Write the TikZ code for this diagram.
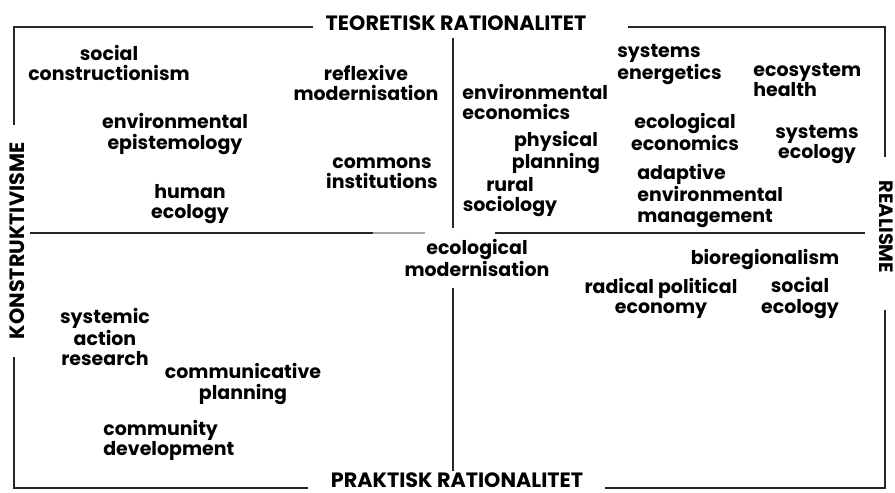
\documentclass[tikz,border=0pt]{standalone}
\usepackage{fontspec}
\setmainfont{Poppins}

\tikzset{
    term/.style={font=\bfseries\fontsize{10.8}{11.4}\selectfont, align=center, inner sep=0pt},
    termleft/.style={term, align=left, anchor=west},
    axislabel/.style={font=\bfseries\fontsize{11.8}{13}\selectfont, inner sep=0pt},
    frameline/.style={line width=0.9pt, black!85}
}

\begin{document}
\begin{tikzpicture}[x=0.02cm, y=-0.02cm]
    \useasboundingbox (0,0) rectangle (895,493);

    % corners of the frame
    \coordinate (NW) at (14,27);
    \coordinate (NE) at (885,27);
    \coordinate (SW) at (14,488);
    \coordinate (SE) at (885,488);

    % axis labels
    \node[axislabel] (teo) at (456,23) {TEORETISK RATIONALITET};
    \node[axislabel] (prak) at (457,480) {PRAKTISK RATIONALITET};
    \node[axislabel, rotate=90] (konst) at (17,241) {KONSTRUKTIVISME};
    \node[axislabel, font=\bfseries\fontsize{11}{13}\selectfont, rotate=-90] (real) at (886,227) {REALISME};

    % frame, broken where the labels sit
    \draw[frameline] (313,27) -- (NW) -- (14,125);
    \draw[frameline] (14,357) -- (SW) -- (308,488);
    \draw[frameline] (605,488) -- (SE) -- (885,310);
    \draw[frameline] (885,157) -- (NE) -- (628,27);

    % the two axes
    \draw[frameline] (453,38) -- (453,228);
    \draw[frameline] (453,288) -- (453,471);
    \draw[frameline] (30,233) -- (373,233);
    \draw[frameline, black!35] (373,233) -- (425,233);
    \draw[frameline] (495,233) -- (865,233);

    % upper left
    \node[term] (soccon) at (109,63) {social\\constructionism};
    \node[term] (reflex) at (366,83) {reflexive\\modernisation};
    \node[term] (envepi) at (175,134) {environmental\\epistemology};
    \node[term] (commons) at (382,173) {commons\\institutions};
    \node[term] (humeco) at (190,204) {human\\ecology};

    % upper right
    \node[termleft] (enveco) at (462,102) {environmental\\economics};
    \node[termleft] (sysene) at (617,65) {systems\\energetics};
    \node[termleft] (ecohea) at (753,80) {ecosystem\\health};
    \node[term] (physpl) at (556,153) {physical\\planning};
    \node[term] (ecolec) at (685,132) {ecological\\economics};
    \node[term] (syseco) at (817,145) {systems\\ecology};
    \node[term] (rursoc) at (510,197) {rural\\sociology};
    \node[termleft] (adapt) at (637,196) {adaptive\\environmental\\management};

    % centre
    \node[term] (ecomod) at (477,258) {ecological\\modernisation};

    % lower right
    \node[term] (biore) at (765,260) {bioregionalism};
    \node[term] (radpol) at (661,298) {radical political\\economy};
    \node[term] (soceco) at (800,298) {social\\ecology};

    % lower left
    \node[term] (sysact) at (105,337) {systemic\\action\\research};
    \node[term] (complan) at (243,384) {communicative\\planning};
    \node[termleft] (comdev) at (103,440) {community\\development};
\end{tikzpicture}
\end{document}
